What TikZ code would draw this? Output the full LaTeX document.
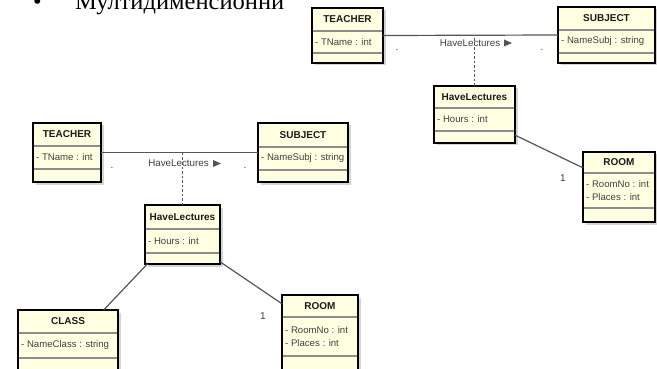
\documentclass[tikz,border=0pt]{standalone}
\usepackage{fontspec}
\setmainfont{Liberation Sans}
\newfontfamily\serifcyr{Liberation Serif}
\definecolor{boxfill}{HTML}{FFFFE2}
\definecolor{linec}{HTML}{555555}
\definecolor{attrc}{HTML}{404040}
\definecolor{titlec}{HTML}{1A1A1A}
\definecolor{shadowc}{HTML}{D4D4D4}
\definecolor{dividergray}{HTML}{8C8C8C}
\tikzset{
  umlbox/.style={draw=black, line width=1.5pt, fill=boxfill, inner sep=0pt, outer sep=0pt},
  divider/.style={draw=dividergray, line width=1.6pt},
  titletext/.style={font=\fontsize{10}{12}\selectfont\bfseries, text=titlec, inner sep=0pt},
  attrtext/.style={font=\fontsize{9.6}{13.5}\selectfont, text=attrc, inner sep=0pt, align=left, anchor=west},
  assoc/.style={draw=linec, line width=1.2pt},
  dashlink/.style={draw=linec, line width=1.1pt, dash pattern=on 2.5pt off 2pt},
  multtext/.style={font=\fontsize{10}{12}\selectfont, text=attrc, inner sep=0pt},
  assoclabel/.style={font=\fontsize{9.8}{12}\selectfont, text=attrc, inner sep=0pt},
  headtext/.style={font=\serifcyr\fontsize{24.5}{28}\selectfont, text=black, inner sep=0pt, anchor=base west}
}
\newcommand\UMLbox[9]{%
  \fill[shadowc] (#2+2.5,#3+2.5) rectangle (#4+2.5,#5+2.5);
  \node[umlbox, minimum width={#4-#2}, minimum height={#5-#3}] (#1) at ({(#2+#4)/2},{(#3+#5)/2}) {};
  \draw[divider] (#2+0.8,#7) -- (#4-0.8,#7);
  \draw[divider] (#2+0.8,#8) -- (#4-0.8,#8);
  \node[titletext] (#1-title) at ({(#2+#4)/2},{(#3+#7)/2}) {#6};
  \node[attrtext] (#1-attr) at (#2+3,{(#7+#8)/2}) {#9};
}
\begin{document}
\begin{tikzpicture}[x=1pt,y=-1pt]
\useasboundingbox (0,0) rectangle (657,369);
\clip (0,0) rectangle (657,369);
\fill[white] (0,0) rectangle (657,369);

% heading
\node[headtext] (bul) at (33,9.5) {•};
\node[headtext] (hdr) at (75,9.5) {Мултидименсионни};

% ---------- top diagram ----------
\UMLbox{tT}{312}{8}{383}{63}{TEACHER}{31}{53}{- TName : int}
\UMLbox{tS}{558}{7}{655}{63}{SUBJECT}{30}{53}{- NameSubj : string}
\UMLbox{tH}{434}{86}{515}{143}{HaveLectures}{108}{131}{- Hours : int}
\UMLbox{tR}{583}{152}{655}{222}{ROOM}{173}{208}{- RoomNo : int\\- Places : int}

\draw[assoc] (tT.east) -- (tS.west);
\draw[dashlink] (tH.north) -- (tH.north |- tT.east);
\draw[assoc] (tH.-27) -- (tR.152);
\node[assoclabel] (tLbl) at (470,43) {HaveLectures};
\fill[linec] (504,39.5) -- (512,43) -- (504,46.5) -- cycle;
\node[multtext] (tM1) at (397,50) {.};
\node[multtext] (tM2) at (542,50) {.};
\node[multtext] (tOne) at (563,178) {1};

% ---------- bottom diagram ----------
\UMLbox{bT}{33}{123}{101}{182}{TEACHER}{146}{169}{- TName : int}
\UMLbox{bS}{258}{123}{348}{182}{SUBJECT}{147}{170}{- NameSubj : string}
\UMLbox{bH}{145}{205}{220}{264}{HaveLectures}{229}{253}{- Hours : int}
\UMLbox{bC}{18}{310}{118}{372}{CLASS}{333}{358}{- NameClass : string}
\UMLbox{bR}{282}{295}{358}{372}{ROOM}{317}{356}{- RoomNo : int\\- Places : int}

\draw[assoc] (bT.east) -- (bS.west);
\draw[dashlink] (bH.north) -- (bH.north |- bT.east);
\draw[assoc] (bH.220) -- (bC.41);
\draw[assoc] (bH.-36) -- (bR.142);
\node[assoclabel] (bLbl) at (178.5,163) {HaveLectures};
\fill[linec] (213,160) -- (221,163.5) -- (213,167) -- cycle;
\node[multtext] (bM1) at (112,168) {.};
\node[multtext] (bM2) at (245,168) {.};
\node[multtext] (bOne) at (263,316) {1};
\end{tikzpicture}
\end{document}
